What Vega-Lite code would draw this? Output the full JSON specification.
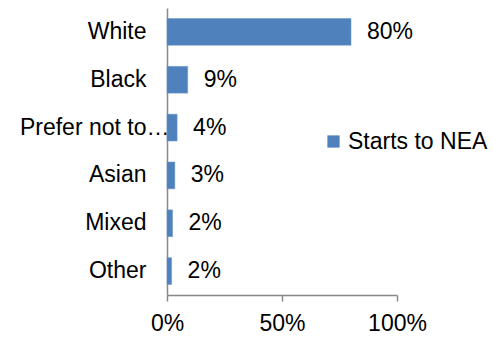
{
  "$schema": "https://vega.github.io/schema/vega-lite/v6.json",
  "autosize": "none",
  "width": 230,
  "height": 287,
  "padding": {"left": 167, "top": 8, "right": 96, "bottom": 44},
  "background": "white",
  "config": {
    "view": {"stroke": null},
    "font": "Liberation Sans"
  },
  "data": {
    "values": [
      {"group": "White", "share": 0.80, "series": "Starts to NEA"},
      {"group": "Black", "share": 0.09, "series": "Starts to NEA"},
      {"group": "Prefer not to say", "share": 0.044, "series": "Starts to NEA"},
      {"group": "Asian", "share": 0.034, "series": "Starts to NEA"},
      {"group": "Mixed", "share": 0.024, "series": "Starts to NEA"},
      {"group": "Other", "share": 0.02, "series": "Starts to NEA"}
    ]
  },
  "encoding": {
    "y": {
      "field": "group", "type": "nominal", "sort": null,
      "scale": {"paddingInner": 0.44, "paddingOuter": 0.22},
      "axis": {
        "title": null, "ticks": false, "domainColor": "#888888", "domainWidth": 1.5,
        "labelFont": "Liberation Sans", "labelFontSize": 23, "labelColor": "#000000",
        "labelPadding": {"condition": {"test": "datum.value == 'Prefer not to say'", "value": -2}, "value": 21},
        "labelLimit": 300,
        "labelExpr": "datum.value == 'Prefer not to say' ? 'Prefer not to…' : datum.value"
      }
    },
    "x": {
      "field": "share", "type": "quantitative",
      "scale": {"domain": [0, 1], "nice": false},
      "axis": {
        "title": null, "values": [0, 0.5, 1], "format": ".0%", "grid": false,
        "domainColor": "#888888", "domainWidth": 1.5, "tickColor": "#888888", "tickSize": 6, "tickWidth": 1.5,
        "labelFont": "Liberation Sans", "labelFontSize": 23, "labelColor": "#000000",
        "labelPadding": 11, "labelFlush": false
      }
    }
  },
  "layer": [
    {
      "mark": {"type": "bar", "color": "#4F81BD", "stroke": "#6b96cc", "strokeWidth": 0.5},
      "encoding": {
        "color": {
          "field": "series", "type": "nominal",
          "scale": {"range": ["#4F81BD"]},
          "legend": {
            "title": null, "orient": "none", "legendX": 155, "legendY": 122,
            "symbolType": "square", "symbolSize": 150, "symbolStrokeWidth": 0,
            "labelFont": "Liberation Sans", "labelFontSize": 23, "labelColor": "#000000",
            "labelOffset": 3, "padding": 0, "labelLimit": 300
          }
        }
      }
    },
    {
      "mark": {"type": "text", "align": "left", "baseline": "middle", "dx": 16, "fontSize": 23, "font": "Liberation Sans", "color": "#000000"},
      "encoding": {
        "text": {"field": "share", "type": "quantitative", "format": ".0%"}
      }
    }
  ]
}
